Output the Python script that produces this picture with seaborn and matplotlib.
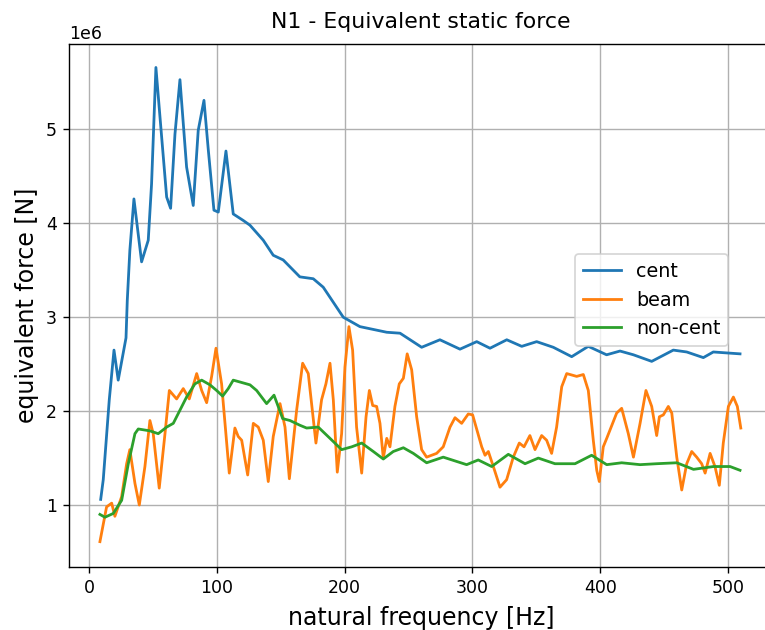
import matplotlib
matplotlib.use("Agg")
import matplotlib.pyplot as plt
import seaborn as sns
import numpy as np
import pandas as pd

# values in units of 1e6 N
cent_f = [9.2, 11.2, 15.9, 19.6, 22.9, 29.0, 30.0, 32.0, 35.2, 41.2, 46.4, 49.0, 52.4, 55.6,
          60.8, 63.9, 67.3, 71.2, 76.4, 81.6, 85.5, 90.0, 93.4, 97.8, 101.2, 107.2, 112.9,
          120.8, 126.0, 136.4, 144.2, 152.0, 165.0, 175.5, 183.3, 199.0, 212.0, 233.0, 243.4,
          260.3, 274.6, 290.3, 303.4, 313.8, 326.9, 338.6, 350.3, 363.3, 377.7, 390.7, 405.0,
          415.5, 426.0, 440.3, 457.2, 467.7, 480.7, 488.5, 509.4]
cent_v = [1.06, 1.27, 2.12, 2.65, 2.33, 2.78, 3.18, 3.71, 4.26, 3.59, 3.82, 4.42, 5.66, 5.13,
          4.28, 4.16, 4.95, 5.53, 4.60, 4.19, 4.99, 5.31, 4.78, 4.14, 4.12, 4.77, 4.10,
          4.03, 3.98, 3.82, 3.66, 3.61, 3.43, 3.41, 3.32, 3.00, 2.90, 2.84, 2.83,
          2.68, 2.76, 2.66, 2.74, 2.67, 2.76, 2.69, 2.74, 2.68, 2.58, 2.69, 2.60,
          2.64, 2.60, 2.53, 2.65, 2.63, 2.57, 2.63, 2.61]

beam_f = [8.6, 13.8, 17.8, 20.3, 25.6, 29.5, 32.0, 36.0, 39.4, 43.8, 47.7, 50.3, 55.0, 59.5,
          62.9, 68.6, 73.8, 78.5, 84.3, 88.2, 92.1, 96.0, 99.4, 103.8, 109.8, 114.2, 116.8,
          119.5, 124.2, 128.6, 132.5, 136.4, 140.3, 144.2, 149.5, 153.4, 156.8, 162.5, 167.2,
          171.6, 177.6, 182.0, 185.4, 188.6, 191.2, 194.3, 197.7, 200.3, 203.4, 206.3, 209.4,
          213.4, 216.8, 219.4, 222.0, 225.1, 227.7, 230.3, 233.0, 235.5, 239.4, 242.8, 246.0,
          249.0, 252.5, 256.4, 260.3, 264.2, 272.0, 277.2, 282.5, 286.4, 291.6, 296.8, 300.2,
          307.3, 309.9, 312.5, 316.4, 321.6, 326.8, 332.0, 336.7, 340.4, 345.0, 349.0, 354.2,
          358.1, 362.0, 365.9, 369.9, 373.8, 381.6, 386.8, 390.7, 394.6, 397.3, 399.3, 402.4,
          405.1, 412.9, 416.8, 422.0, 426.0, 431.2, 435.8, 440.3, 444.2, 446.3, 449.4, 453.3,
          456.0, 459.9, 463.8, 467.7, 471.6, 475.5, 479.4, 482.1, 486.0, 489.8, 493.2, 496.3,
          500.3, 504.2, 507.3, 510.0]
beam_v = [0.61, 0.98, 1.02, 0.88, 1.09, 1.44, 1.59, 1.23, 1.00, 1.41, 1.90, 1.76, 1.18, 1.76,
          2.22, 2.13, 2.24, 2.13, 2.40, 2.22, 2.09, 2.37, 2.67, 2.29, 1.34, 1.82, 1.73,
          1.69, 1.32, 1.87, 1.83, 1.69, 1.25, 1.73, 2.08, 1.83, 1.28, 2.01, 2.51,
          2.40, 1.66, 2.12, 2.29, 2.51, 2.12, 1.35, 1.76, 2.47, 2.90, 2.65, 1.83,
          1.34, 1.94, 2.22, 2.06, 2.05, 1.87, 1.50, 1.71, 1.62, 2.05, 2.29, 2.35,
          2.61, 2.44, 1.94, 1.59, 1.51, 1.55, 1.62, 1.83, 1.93, 1.87, 1.97, 1.96,
          1.62, 1.53, 1.57, 1.41, 1.19, 1.27, 1.51, 1.66, 1.62, 1.74, 1.59, 1.74,
          1.69, 1.55, 1.83, 2.26, 2.40, 2.37, 2.39, 2.22, 1.69, 1.37, 1.25, 1.62,
          1.71, 1.98, 2.03, 1.76, 1.51, 1.87, 2.22, 2.05, 1.74, 1.94, 1.96, 2.05,
          1.98, 1.51, 1.16, 1.44, 1.57, 1.51, 1.44, 1.34, 1.55, 1.41, 1.21, 1.66,
          2.05, 2.15, 2.05, 1.82]

noncent_f = [8.6, 12.5, 19.0, 25.6, 30.8, 36.0, 38.6, 47.7, 54.2, 60.8, 66.0, 71.2, 76.4, 82.9,
             88.2, 94.7, 99.9, 104.6, 109.0, 112.9, 118.2, 126.0, 131.2, 139.0, 144.8, 151.6,
             157.3, 165.0, 170.3, 179.4, 188.6, 197.7, 205.6, 213.4, 222.5, 230.3, 238.1, 246.0,
             253.8, 264.2, 277.2, 295.5, 304.6, 315.1, 328.1, 341.2, 351.6, 364.6, 380.3, 393.3,
             405.1, 416.8, 431.2, 444.2, 459.9, 473.0, 488.6, 501.6, 509.4]
noncent_v = [0.90, 0.87, 0.91, 1.05, 1.44, 1.76, 1.81, 1.79, 1.76, 1.83, 1.87, 2.01, 2.15, 2.29,
             2.33, 2.28, 2.22, 2.16, 2.24, 2.33, 2.31, 2.28, 2.22, 2.08, 2.17, 1.92,
             1.90, 1.85, 1.82, 1.83, 1.71, 1.59, 1.62, 1.66, 1.57, 1.49, 1.57, 1.61,
             1.55, 1.45, 1.51, 1.43, 1.48, 1.41, 1.54, 1.44, 1.50, 1.44, 1.44, 1.53,
             1.43, 1.45, 1.43, 1.44, 1.45, 1.38, 1.41, 1.41, 1.37]

labels = ["cent", "beam", "non-cent"]
colors = ["#1f77b4", "#ff7f0e", "#2ca02c"]
xticks = [0, 100, 200, 300, 400, 500]

DPI = 125
fig = plt.figure(figsize=(765 / DPI, 630 / DPI), dpi=DPI)
ax = fig.add_axes([69 / 765, (630 - 567) / 630, (773 - 69) / 765, (567 - 44) / 630])

series = [(cent_f, cent_v), (beam_f, beam_v), (noncent_f, noncent_v)]
for (f, v), lab, c in zip(series, labels, colors):
    df = pd.DataFrame({"f": f, "F": np.array(v) * 1e6})
    sns.lineplot(data=df, x="f", y="F", ax=ax, label=lab, color=c, linewidth=1.6,
                 sort=False, estimator=None)

ax.set_xlim(-15.6, 535.2)
ax.set_ylim(0.34e6, 5.91e6)
ax.spines["right"].set_visible(False)
ax.grid(True)
ax.set_title("N1 - Equivalent static force", fontsize=12.7, pad=9)
ax.set_xlabel("natural frequency [Hz]", fontsize=13.6, labelpad=5)
ax.set_ylabel("equivalent force [N]", fontsize=13.6)
ax.set_xticks(xticks)
ax.tick_params(labelsize=10)
ax.legend(loc="center right", bbox_to_anchor=(0.950, 0.5105), fontsize=11)

fig.savefig("out.png", dpi=DPI)
